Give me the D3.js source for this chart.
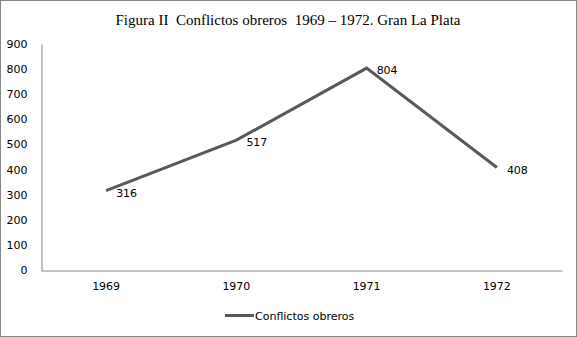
<!DOCTYPE html>
<html><head><meta charset="utf-8">
<script src="https://cdn.jsdelivr.net/npm/d3@7"></script>
<style>body{margin:0;background:#fff}</style>
</head><body>
<script>
const categories = ["1969","1970","1971","1972"];
const values = [316, 517, 804, 408];
const yTicks = [0,100,200,300,400,500,600,700,800,900];
const seriesName = "Conflictos obreros";
const title = "Figura II  Conflictos obreros  1969 – 1972. Gran La Plata";

const W = 577, H = 337;
const svg = d3.select("body").append("svg").attr("width", W).attr("height", H);
svg.append("rect").attr("x",0.5).attr("y",0.5).attr("width",W-1).attr("height",H-1)
  .attr("fill","#fff").attr("stroke","#868686");

const x = d3.scaleBand().domain(categories).range([41, 562]);
const y = d3.scaleLinear().domain([0, 900]).range([270, 44]);

svg.append("text").attr("x", 288).attr("y", 25).attr("text-anchor","middle")
  .style("white-space","pre")
  .attr("font-family","Liberation Serif, serif").attr("font-size", 15).attr("fill","#000")
  .text(title);

const font = "DejaVu Sans, Verdana, sans-serif";
const yAxis = svg.append("g").attr("transform","translate(41.5,0)")
  .call(d3.axisLeft(y).tickValues(yTicks).tickSize(0).tickPadding(14));
yAxis.select(".domain").attr("stroke","#868686");
yAxis.selectAll("text").attr("font-family",font).attr("font-size",11).attr("fill","#000");

const xAxis = svg.append("g").attr("transform","translate(0,270.5)")
  .call(d3.axisBottom(x).tickSize(0).tickPadding(12));
xAxis.select(".domain").attr("stroke","#868686");
xAxis.selectAll("text").attr("font-family",font).attr("font-size",11).attr("fill","#000");

const pts = categories.map((c,i)=>[x(c)+x.bandwidth()/2, y(values[i])]);
svg.append("path").attr("d", d3.line()(pts)).attr("fill","none")
  .attr("stroke","#595959").attr("stroke-width",3).attr("stroke-linejoin","miter");

svg.selectAll(".lbl").data(values).enter().append("text")
  .attr("x",(d,i)=>pts[i][0]+10).attr("y",(d,i)=>pts[i][1]+6)
  .attr("font-family",font).attr("font-size",11).attr("fill","#000").text(d=>d);

svg.append("line").attr("x1",225).attr("x2",254).attr("y1",315.5).attr("y2",315.5)
  .attr("stroke","#595959").attr("stroke-width",3);
svg.append("text").attr("x",255).attr("y",319.5).attr("font-family",font).attr("font-size",11)
  .attr("fill","#000").text(seriesName);
</script>
</body></html>
